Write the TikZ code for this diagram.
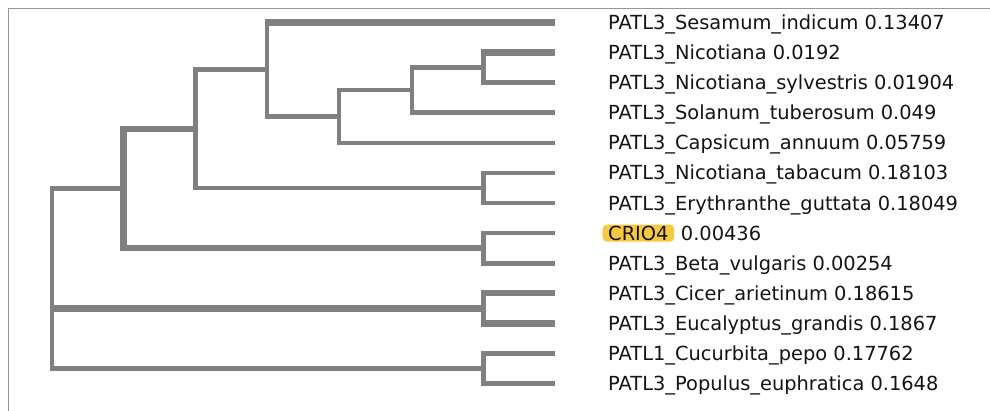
\documentclass[tikz,border=0pt]{standalone}
\usepackage{fontspec}
\setmainfont{DejaVu Sans}
\definecolor{branchgray}{RGB}{128,128,128}
\definecolor{framegray}{RGB}{150,150,150}
\definecolor{hilite}{RGB}{247,200,66}
\definecolor{labeltext}{RGB}{20,20,20}
\begin{document}
\begin{tikzpicture}[x=1pt,y=-1pt,
  branch/.style={draw=branchgray, line width=4.6pt, line join=miter},
  thickbranch/.style={branch, line width=6.2pt},
  % heavier horizontal run laid over a normal-width edge
  heavyrun/.style={thickbranch, shorten <=-2.3pt},
  leaflabel/.style={anchor=base west, inner sep=0pt, text=labeltext,
    font=\fontsize{19.4}{22}\selectfont},
]
\useasboundingbox (0,0) rectangle (990,411);

% panel frame (top and left edges)
\draw[framegray, line width=1.3pt] (8.5,411) -- (8.5,8.5) -- (990,8.5);

% leaf tips
\coordinate (t0)  at (555,22.5);
\coordinate (t1)  at (555,52.6);
\coordinate (t2)  at (555,82.7);
\coordinate (t3)  at (555,112.8);
\coordinate (t4)  at (555,142.9);
\coordinate (t5)  at (555,173.0);
\coordinate (t6)  at (555,203.1);
\coordinate (t7)  at (555,233.2);
\coordinate (t8)  at (555,263.3);
\coordinate (t9)  at (555,293.4);
\coordinate (t10) at (555,323.5);
\coordinate (t11) at (555,353.6);
\coordinate (t12) at (555,383.7);

% internal nodes
\coordinate (nNic)  at (483.5,67.65);
\coordinate (nSol)  at (412,90.2);
\coordinate (nCap)  at (339,116.6);
\coordinate (nSes)  at (267,69.5);
\coordinate (nTab)  at (483.5,188.05);
\coordinate (nA)    at (195.5,128.8);
\coordinate (nCrio) at (483.5,248.25);
\coordinate (nB)    at (123.5,188.5);
\coordinate (nCic)  at (483.5,308.45);
\coordinate (nCuc)  at (483.5,368.65);
\coordinate (root)  at (52,278.5);

% branches
\draw[branch] (nSes) |- (t0);
\draw[heavyrun] (nSes |- t0) -- (t0);
\draw[branch] (nSes) |- (nCap);
\draw[branch] (nCap) |- (nSol);
\draw[branch] (nCap) |- (t4);
\draw[branch] (nSol) |- (nNic);
\draw[branch] (nSol) |- (t3);
\draw[branch] (nNic) |- (t1);
\draw[heavyrun] (nNic |- t1) -- (t1);
\draw[branch] (nNic) |- (t2);
\draw[branch] (nA) |- (nSes);
\draw[branch] (nA) |- (nTab);
\draw[branch] (nTab) |- (t5);
\draw[branch] (nTab) |- (t6);
\draw[thickbranch] (nB) |- (nA);
\draw[thickbranch] (nB) |- (nCrio);
\draw[branch] (nCrio) |- (t7);
\draw[branch] (nCrio) |- (t8);
\draw[branch] (root) |- (nB);
\draw[branch] (root) |- (nCic);
\draw[heavyrun] (root |- nCic) -- (nCic);
\draw[branch] (root) |- (nCuc);
\draw[branch] (nCic) |- (t9);
\draw[heavyrun] (nCic |- t9) -- (t9);
\draw[branch] (nCic) |- (t10);
\draw[heavyrun] (nCic |- t10) -- (t10);
\draw[branch] (nCuc) |- (t11);
\draw[branch] (nCuc) |- (t12);

% leaf labels
\node[leaflabel] (l0)  at (608,29.5)  {PATL3\_Sesamum\_indicum 0.13407};
\node[leaflabel] (l1)  at (608,59.6)  {PATL3\_Nicotiana 0.0192};
\node[leaflabel] (l2)  at (608,89.7)  {PATL3\_Nicotiana\_sylvestris 0.01904};
\node[leaflabel] (l3)  at (608,119.8) {PATL3\_Solanum\_tuberosum 0.049};
\node[leaflabel] (l4)  at (608,149.9) {PATL3\_Capsicum\_annuum 0.05759};
\node[leaflabel] (l5)  at (608,180.0) {PATL3\_Nicotiana\_tabacum 0.18103};
\node[leaflabel] (l6)  at (608,210.1) {PATL3\_Erythranthe\_guttata 0.18049};
\node[leaflabel, fill=hilite, rounded corners=4pt, inner xsep=5.5pt,
      inner ysep=1.5pt, text height=14pt, text depth=0pt]
      (l7) at (602.5,240.2) {CRIO4};
\node[leaflabel] (l7v) at ([xshift=6.5pt]l7.base east) {0.00436};
\node[leaflabel] (l8)  at (608,270.3) {PATL3\_Beta\_vulgaris 0.00254};
\node[leaflabel] (l9)  at (608,300.4) {PATL3\_Cicer\_arietinum 0.18615};
\node[leaflabel] (l10) at (608,330.5) {PATL3\_Eucalyptus\_grandis 0.1867};
\node[leaflabel] (l11) at (608,360.6) {PATL1\_Cucurbita\_pepo 0.17762};
\node[leaflabel] (l12) at (608,390.7) {PATL3\_Populus\_euphratica 0.1648};
\end{tikzpicture}
\end{document}
